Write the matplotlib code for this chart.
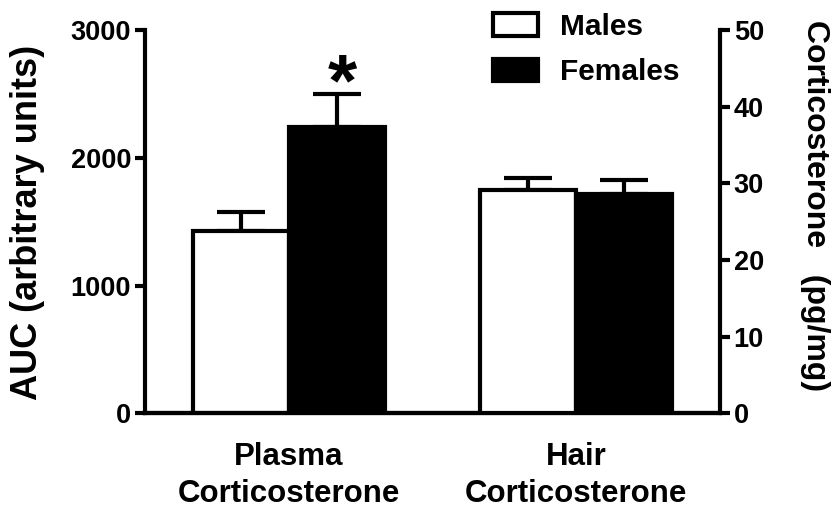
import matplotlib.pyplot as plt
from matplotlib.patches import Patch

plt.rcParams['font.family'] = ['Liberation Sans', 'DejaVu Sans']
plt.rcParams['font.weight'] = 'bold'

# Plasma corticosterone (AUC, arbitrary units) - left axis
plasma_groups = ['Males', 'Females']
plasma_mean = [1430, 2240]
plasma_sem = [145, 260]

# Hair corticosterone (pg/mg) - right axis
hair_mean = [29.1, 28.6]
hair_sem = [1.6, 1.8]

categories = ['Plasma\nCorticosterone', 'Hair\nCorticosterone']
bar_colors = ['white', 'black']

fig = plt.figure(figsize=(8.38, 5.12), dpi=100)
ax = fig.add_axes([0.173, 0.193, 0.686, 0.748])
ax2 = ax.twinx()

lw = 3
cap = 17.5
plasma_x = [1, 2]
hair_x = [4, 5]

for x, m, e, c in zip(plasma_x, plasma_mean, plasma_sem, bar_colors):
    ax.bar(x, m, width=1, color=c, edgecolor='black', linewidth=lw, zorder=3)
    ax.errorbar(x, m, yerr=[[0], [e]], fmt='none', ecolor='black',
                elinewidth=lw, capsize=cap, capthick=lw, zorder=2)

for x, m, e, c in zip(hair_x, hair_mean, hair_sem, bar_colors):
    ax2.bar(x, m, width=1, color=c, edgecolor='black', linewidth=lw, zorder=3)
    ax2.errorbar(x, m, yerr=[[0], [e]], fmt='none', ecolor='black',
                 elinewidth=lw, capsize=cap, capthick=lw, zorder=2)

# significance star
ax.text(plasma_x[1] + 0.06, 2410, '*', ha='center', va='baseline',
        fontsize=54, fontweight='bold')

ax.set_xlim(0, 6)
ax.set_ylim(0, 3000)
ax2.set_ylim(0, 50)
ax.set_yticks([0, 1000, 2000, 3000])
ax2.set_yticks([0, 10, 20, 30, 40, 50])
ax.set_xticks([1.5, 4.5])
ax.set_xticklabels(categories, fontsize=22.5, fontweight='bold', linespacing=1.3)

for a in (ax, ax2):
    a.spines['top'].set_visible(False)
    for s in a.spines.values():
        s.set_linewidth(lw)
    a.tick_params(axis='y', width=lw, length=7, labelsize=19.5, pad=3)
    for t in a.get_yticklabels():
        t.set_fontweight('bold')
ax.tick_params(axis='x', length=0, pad=21)
ax2.spines['left'].set_visible(False)
ax.spines['right'].set_visible(False)

# axis titles
fig.text(28 / 838, 1 - 222 / 512, 'AUC (arbitrary units)', rotation=90,
         ha='center', va='center', fontsize=26, fontweight='bold')
fig.text(815 / 838, 1 - 206 / 512, 'Corticosterone   (pg/mg)', rotation=270,
         ha='center', va='center', fontsize=23, fontweight='bold')

handles = [Patch(facecolor='white', edgecolor='black', linewidth=lw, label='Males'),
           Patch(facecolor='black', edgecolor='black', linewidth=lw, label='Females')]
fig.legend(handles=handles, loc='upper left', bbox_to_anchor=(493 / 838, 1 - 13 / 512),
           frameon=False, fontsize=21.5, handlelength=1.5, handleheight=0.8,
           labelspacing=0.58, handletextpad=0.75, borderpad=0, borderaxespad=0)

fig.savefig('out.png', dpi=100)
